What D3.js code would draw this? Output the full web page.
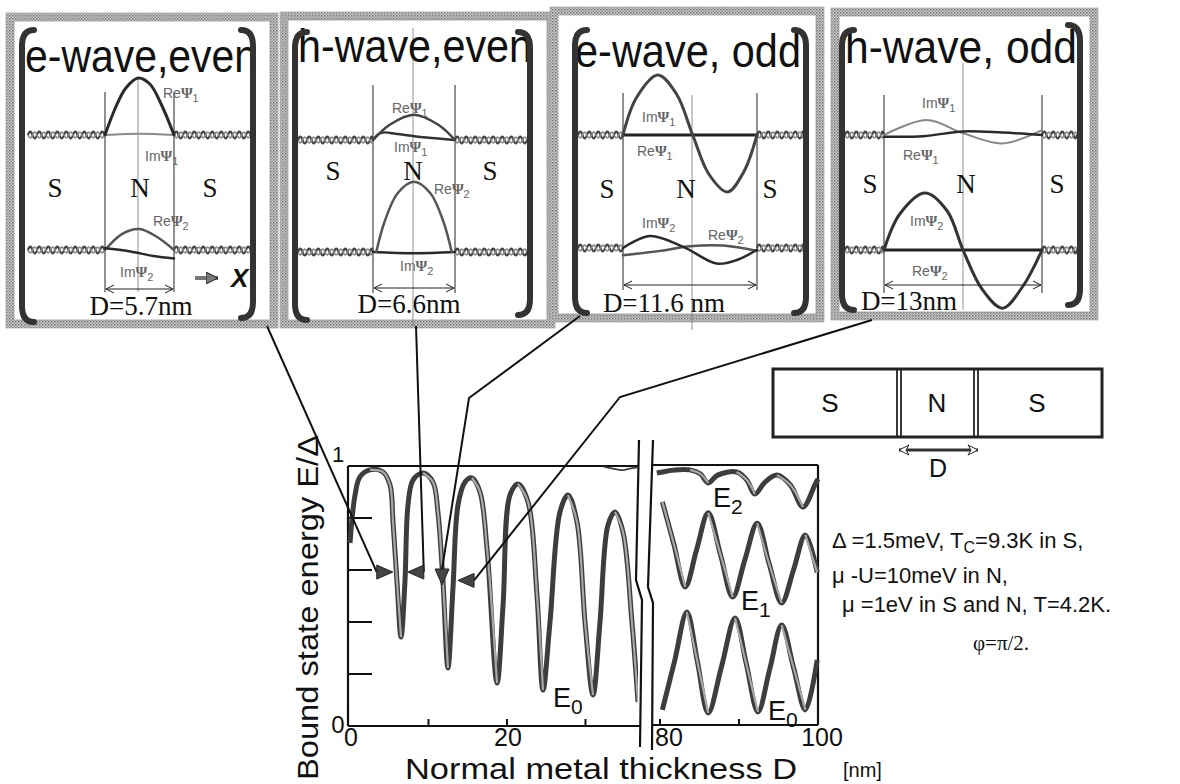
<!DOCTYPE html>
<html><head><meta charset="utf-8">
<script src="https://cdn.jsdelivr.net/npm/d3@7"></script>
<style>body{margin:0;background:#fff}svg{display:block}</style>
</head><body>
<svg id="c" width="1180" height="784"></svg>
<script>
// ---------------- DATA ----------------
// main chart: bound state energy E/Δ vs normal metal thickness D [nm]
const E0_left = [[0,0.704],[0.64,0.888],[1.27,0.958],[2.55,0.985],[4.2,0.977],[5.1,0.927],[5.48,0.785],[5.99,0.554],[6.5,0.342],[7.0,0.554],[7.39,0.85],[8.03,0.946],[9.3,0.973],[10.57,0.938],[11.2,0.823],[11.85,0.554],[12.48,0.223],[13.12,0.531],[13.76,0.85],[14.65,0.938],[15.54,0.954],[16.56,0.9],[17.45,0.685],[18.73,0.165],[19.5,0.465],[20.38,0.888],[21.4,0.931],[22.68,0.862],[23.82,0.504],[24.59,0.138],[25.48,0.4],[26.75,0.823],[27.77,0.888],[28.92,0.785],[29.94,0.4],[30.96,0.119],[31.85,0.4],[32.87,0.773],[33.76,0.823],[34.78,0.746],[35.92,0.4],[36.69,0.092]];
const E1_left = [[32.3,0.998],[33.5,0.99],[34.6,0.984],[35.6,0.99],[36.6,0.995]];
const E2_right = [[79.6,0.973],[81.9,0.985],[83.8,0.985],[85.1,0.97],[86.1,0.935],[87.3,0.965],[89.7,0.977],[91.0,0.946],[92.0,0.892],[93.3,0.938],[94.8,0.965],[96.5,0.927],[98.1,0.842],[99.6,0.927],[100,0.95]];
const E1_right = [[80.3,0.862],[81.75,0.70],[83.2,0.535],[84.65,0.68],[86.1,0.82],[87.65,0.66],[89.2,0.496],[90.75,0.64],[92.3,0.78],[93.85,0.62],[95.4,0.473],[96.9,0.60],[98.4,0.735],[99.9,0.59]];
const E0_right = [[80.3,0.062],[81.85,0.25],[83.4,0.438],[84.75,0.245],[86.1,0.05],[87.8,0.23],[89.5,0.415],[90.95,0.235],[92.4,0.054],[93.9,0.22],[95.4,0.388],[96.9,0.225],[98.4,0.062],[99.9,0.254]];
const yTicks = [0.2, 0.4, 0.6, 0.8];
const xTicksLeft = [10, 20, 30];
const xTicksRight = [80, 90];
const xLabelsLeft = [0, 20];
const xLabelsRight = [80, 100];

// inset panels
const panelTitles = ["e-wave,even", "h-wave,even", "e-wave, odd", "h-wave, odd"];
const panelDnm = [5.7, 6.6, 11.6, 13];
const panelDText = ["D=5.7nm", "D=6.6nm", "D=11.6 nm", "D=13nm"];
const arrowE = [0.592, 0.592, 0.55, 0.56];          // E/Δ where each arrow points
const arrowDir = ["right", "left", "down", "left"];
// wavefunction shapes: [position across N (0..1), relative amplitude]
const p1ReA = [[0,0],[0.15,0.45],[0.3,0.78],[0.48,0.95],[0.65,0.85],[0.82,0.5],[1,0]];
const p1ImA = [[0,0],[0.5,0.02],[1,0]];
const p1ReB = [[0,0],[0.25,0.27],[0.5,0.35],[0.75,0.22],[1,0]];
const p1ImB = [[0,0.03],[0.35,-0.02],[0.7,-0.1],[1,-0.14]];
const p2ReA = [[0,0],[0.2,0.25],[0.5,0.42],[0.8,0.25],[1,0]];
const p2ImA = [[0,0],[0.1,0.12],[0.3,0.1],[0.65,0.04],[1,0]];
const p2ReB = [[0.04,0],[0.14,0.5],[0.3,0.98],[0.5,1.17],[0.7,0.98],[0.86,0.5],[0.96,0]];
const p2ImB = [[0,0],[0.5,-0.02],[1,0]];
const p3ImA = [[0,0],[0.1,0.62],[0.26,1.0],[0.4,0.68],[0.52,0],[0.64,-0.65],[0.78,-0.95],[0.9,-0.62],[1,0]];
const p3ReA = [[0,0],[1,0]];
const p3ImB = [[0,0],[0.2,0.2],[0.45,0.02],[0.7,-0.26],[0.85,-0.2],[1,-0.03]];
const p3ReB = [[0,-0.12],[0.3,-0.04],[0.5,0.03],[0.75,0.04],[1,-0.05]];
const p4ImA = [[0,0],[0.27,0.25],[0.5,0.03],[0.75,-0.14],[1,0.08]];
const p4ReA = [[0,-0.03],[0.25,-0.02],[0.5,0.06],[0.75,0.04],[1,0]];
const p4ImB = [[0,0],[0.1,0.6],[0.26,0.95],[0.4,0.65],[0.5,0],[0.62,-0.65],[0.75,-0.97],[0.88,-0.6],[1,0]];
const p4ReB = [[0,0],[1,0]];

const paramLines = ["Δ =1.5meV, T", "μ -U=10meV in N,", "μ =1eV in S and N, T=4.2K.", "φ=π/2."];

// ---------------- LAYOUT ----------------
const svg = d3.select("#c");
svg.append("rect").attr("width",1180).attr("height",784).attr("fill","#fff");
const defs = svg.append("defs");
const pat = defs.append("pattern").attr("id","ht").attr("width",3).attr("height",3).attr("patternUnits","userSpaceOnUse");
pat.append("rect").attr("width",3).attr("height",3).attr("fill","#cfcfcf");
pat.append("rect").attr("width",1.5).attr("height",1.5).attr("fill","#707070");
pat.append("rect").attr("x",1.5).attr("y",1.5).attr("width",1.5).attr("height",1.5).attr("fill","#959595");
function mk(id, path, w, h, rx, ry, fill){
  defs.append("marker").attr("id",id).attr("viewBox",`0 0 ${w} ${h}`).attr("refX",rx).attr("refY",ry)
    .attr("markerWidth",w).attr("markerHeight",h).attr("markerUnits","userSpaceOnUse").attr("orient","auto-start-reverse")
    .append("path").attr("d",path).attr("fill",fill).attr("stroke","#222").attr("stroke-width",1);
}
mk("oa","M1,1 L9,5 L1,9",10,10,9,5,"none");
mk("ha","M1,1 L11,6 L1,11 L4,6 Z",12,12,11,6,"#fff");
mk("ga","M0,0 L12,6 L0,12 Z",12,12,12,6,"#777");

const sans = "'Liberation Sans', Arial, Helvetica, sans-serif";
const serif = "'Liberation Serif', 'Times New Roman', serif";

// ---------------- INSET PANELS ----------------
const P = [
 {box:[10,17,274,324], tx:25, ty:72, tl:232, bl:[22,30,322], br:[253,30,318], xL:105, xR:174, xc:138, y1:135, y2:250,
  vTop:92, vBot:292, cTop:78, cBot:292, ay:289, sx:[55,140,210], sy:197, dx:141, dy:315,
  wL:[28,105], wR:[174,252],
  curves:[[p1ImA,"A","#8a8a8a",2],[p1ReA,"A","#2a2a2a",3],[p1ReB,"B","#555",2.5],[p1ImB,"B","#2a2a2a",2.5]],
  labels:[["Re",163,98],["Im",145,161],["Re",153,226],["Im",120,277]]},
 {box:[284,16,551,324], tx:298, ty:62, tl:234, bl:[295,32,320], br:[530,32,315], xL:373, xR:455, xc:413, y1:140, y2:252,
  vTop:85, vBot:293, cTop:28, cBot:326, ay:288, sx:[333,413,490], sy:180, dx:409, dy:313,
  wL:[298,373], wR:[455,527],
  curves:[[p2ImA,"A","#333",2.5],[p2ReA,"A","#444",2.5],[p2ImB,"B","#2a2a2a",2.5],[p2ReB,"B","#555",2.5]],
  labels:[["Re",392,113],["Im",394,152],["Re",434,194],["Im",400,271]]},
 {box:[554,11,820,318], tx:575, ty:67, tl:226, bl:[575,30,313], br:[806,30,313], xL:623, xR:757, xc:692, y1:135, y2:248,
  vTop:93, vBot:290, cTop:95, cBot:330, ay:285, sx:[607,686,770], sy:198, dx:664, dy:312,
  wL:[578,623], wR:[757,803],
  curves:[[p3ReA,"A","#222",3],[p3ImA,"A","#444",3],[p3ReB,"B","#555",2.5],[p3ImB,"B","#2a2a2a",2.5]],
  labels:[["Im",642,122],["Re",637,156],["Im",642,228],["Re",708,240]]},
 {box:[835,12,1094,316], tx:845, ty:63, tl:232, bl:[842,30,310], br:[1080,25,305], xL:884, xR:1042, xc:963, y1:135, y2:250,
  vTop:95, vBot:293, cTop:63, cBot:310, ay:285, sx:[870,966,1057], sy:193, dx:909, dy:310,
  wL:[845,884], wR:[1042,1077],
  curves:[[p4ImA,"A","#888",2],[p4ReA,"A","#2a2a2a",2.5],[p4ReB,"B","#222",3],[p4ImB,"B","#333",3]],
  labels:[["Im",922,108],["Re",903,160],["Im",910,226],["Re",912,276]]}
];
const subIdx = [[1,1,2,2],[1,1,2,2],[1,1,2,2],[1,1,2,2]];

function wavy(x0,x1,y,amp,per,up){
  let d=`M${x0},${y}`;
  for(let x=x0;x<x1-0.5;x+=per/2){const xe=Math.min(x+per/2,x1);d+=` Q${(x+xe)/2},${y+(up?-2*amp:2*amp)} ${xe},${y}`;up=!up;}
  return d;
}
function bracketPath(x,t,b,side){
  const c = side==="L"?12:-12;
  return `M${x+c},${t} Q${x},${t} ${x},${t+16} L${x},${b-16} Q${x},${b} ${x+c},${b}`;
}

P.forEach((p,i)=>{
  const g = svg.append("g");
  const [bx0,by0,bx1,by1]=p.box;
  g.append("rect").attr("x",bx0).attr("y",by0).attr("width",bx1-bx0).attr("height",by1-by0)
    .attr("fill","#fff").attr("stroke","url(#ht)").attr("stroke-width",8);
  g.append("rect").attr("x",bx0-4).attr("y",by0-4).attr("width",bx1-bx0+8).attr("height",by1-by0+8)
    .attr("fill","none").attr("stroke","#aaa").attr("stroke-width",0.8);
  g.append("rect").attr("x",bx0+4).attr("y",by0+4).attr("width",bx1-bx0-8).attr("height",by1-by0-8)
    .attr("fill","none").attr("stroke","#999").attr("stroke-width",0.8);

  // vertical guides
  g.append("line").attr("x1",p.xc).attr("x2",p.xc).attr("y1",p.cTop).attr("y2",p.cBot).attr("stroke","#777").attr("stroke-width",0.8);
  [p.xL,p.xR].forEach(x=>g.append("line").attr("x1",x).attr("x2",x).attr("y1",p.vTop).attr("y2",p.vBot).attr("stroke","#222").attr("stroke-width",1));

  // title
  g.append("text").attr("x",p.tx).attr("y",p.ty).text(panelTitles[i])
    .attr("font-family",sans).attr("font-size",46).attr("fill","#111")
    .attr("textLength",p.tl).attr("lengthAdjust","spacingAndGlyphs");

  // S/N/S
  ["S","N","S"].forEach((s,k)=>g.append("text").attr("x",p.sx[k]).attr("y",p.sy).attr("text-anchor","middle")
    .attr("font-family",serif).attr("font-size",27).attr("fill","#111").text(s));

  // wavy lines in S regions
  [p.y1,p.y2].forEach(y=>{
    [p.wL,p.wR].forEach(w=>{
      g.append("path").attr("d",wavy(w[0],w[1],y,3.4,9,true)).attr("fill","none").attr("stroke","#444").attr("stroke-width",2.2);
      g.append("path").attr("d",wavy(w[0],w[1],y,2.8,9,false)).attr("fill","none").attr("stroke","#8a8a8a").attr("stroke-width",1.8);
    });
  });

  // wavefunctions
  const xs = d3.scaleLinear().domain([0,1]).range([p.xL,p.xR]);
  const as = d3.scaleLinear().domain([-1,1]).range([60,-60]);
  p.curves.forEach(([data,base,col,w])=>{
    const y0 = base==="A"?p.y1:p.y2;
    const line = d3.line().x(d=>xs(d[0])).y(d=>y0+as(d[1])).curve(d3.curveCatmullRom.alpha(0.5));
    g.append("path").attr("d",line(data)).attr("fill","none").attr("stroke",col).attr("stroke-width",w).attr("stroke-linecap","round");
  });

  // Ψ labels
  p.labels.forEach(([pre,x,y],k)=>{
    const t = g.append("text").attr("x",x).attr("y",y).attr("font-family",sans).attr("font-size",14).attr("fill","#666");
    t.append("tspan").text(pre);
    t.append("tspan").text("Ψ").attr("font-family",serif).attr("font-weight","bold").attr("font-size",15);
    t.append("tspan").text(subIdx[i][k]).attr("font-size",11).attr("dy",4);
  });

  // D double arrow + label
  g.append("line").attr("x1",p.xL+1).attr("x2",p.xR-1).attr("y1",p.ay).attr("y2",p.ay)
    .attr("stroke","#222").attr("stroke-width",1).attr("marker-start","url(#oa)").attr("marker-end","url(#oa)");
  g.append("text").attr("x",p.dx).attr("y",p.dy).attr("text-anchor","middle").attr("font-family",serif)
    .attr("font-size",27).attr("fill","#111").text(panelDText[i]);

  // brackets (drawn over title)
  g.append("path").attr("d",bracketPath(p.bl[0],p.bl[1],p.bl[2],"L")).attr("fill","none").attr("stroke","#333").attr("stroke-width",6).attr("stroke-linecap","round");
  g.append("path").attr("d",bracketPath(p.br[0],p.br[1],p.br[2],"R")).attr("fill","none").attr("stroke","#333").attr("stroke-width",6).attr("stroke-linecap","round");
});
// "→ x" in first panel
svg.append("line").attr("x1",195).attr("x2",218).attr("y1",278).attr("y2",278).attr("stroke","#777").attr("stroke-width",4).attr("marker-end","url(#ga)");
svg.append("text").attr("x",231).attr("y",287).attr("font-family",sans).attr("font-style","italic").attr("font-weight","bold")
  .attr("font-size",26).attr("fill","#111").text("X");

// ---------------- MAIN CHART ----------------
const xL = d3.scaleLinear().domain([0,36.5]).range([350,636.5]);
const xR = d3.scaleLinear().domain([80,100]).range([660,818]);
const y = d3.scaleLinear().domain([0,1]).range([726,466]);

defs.append("clipPath").attr("id","clipL").append("rect").attr("x",346).attr("y",455).attr("width",292).attr("height",275);
defs.append("clipPath").attr("id","clipR").append("rect").attr("x",653).attr("y",455).attr("width",167).attr("height",275);

// frames
const fr = svg.append("g").attr("stroke","#111").attr("stroke-width",2.2).attr("fill","none");
fr.append("line").attr("x1",xL(0)-2).attr("x2",xL(0)-2).attr("y1",y(1)).attr("y2",y(0));
fr.append("line").attr("x1",xL(0)-2).attr("x2",638).attr("y1",y(1)).attr("y2",y(1));
fr.append("line").attr("x1",xL(0)-2).attr("x2",641).attr("y1",y(0)).attr("y2",y(0));
fr.append("line").attr("x1",652).attr("x2",xR(100)).attr("y1",y(1)-1).attr("y2",y(1)-1);
fr.append("line").attr("x1",652).attr("x2",xR(100)).attr("y1",y(0)-1).attr("y2",y(0)-1);
fr.append("line").attr("x1",xR(100)).attr("x2",xR(100)).attr("y1",y(1)-1).attr("y2",y(0)-1);
// break marks
fr.append("path").attr("d","M639,440 L636,580 L642,600 L640,747");
fr.append("path").attr("d","M653,440 L648,587 L653,603 L652,750");

// ticks
yTicks.forEach(t=>svg.append("line").attr("x1",xL(0)-2).attr("x2",372).attr("y1",y(t)).attr("y2",y(t)).attr("stroke","#111").attr("stroke-width",2));
xTicksLeft.forEach(t=>svg.append("line").attr("x1",xL(t)).attr("x2",xL(t)).attr("y1",y(0)).attr("y2",y(0)-7).attr("stroke","#111").attr("stroke-width",2));
xTicksRight.forEach(t=>svg.append("line").attr("x1",xR(t)).attr("x2",xR(t)).attr("y1",y(0)).attr("y2",y(0)-7).attr("stroke","#111").attr("stroke-width",2));

// curves
function drawCurve(data, xs, clip, w){
  const line = d3.line().x(d=>xs(d[0])).y(d=>y(d[1])).curve(d3.curveCatmullRom.alpha(0.5));
  const g = svg.append("g").attr("clip-path",`url(#${clip})`);
  g.append("path").attr("d",line(data)).attr("fill","none").attr("stroke","#3d3d3d").attr("stroke-width",w).attr("stroke-linejoin","round");
  if(w<4) return;
  // lighter centre on falling branches
  let run=[];
  const flush=()=>{ if(run.length>1) g.append("path").attr("d",line(run)).attr("fill","none").attr("stroke","#a8a8a8").attr("stroke-width",2.2); run=[]; };
  for(let i=0;i<data.length-1;i++){
    if(data[i+1][1]<data[i][1]){ if(run.length===0) run.push(data[i]); run.push(data[i+1]); }
    else flush();
  }
  flush();
}
drawCurve(E0_left, xL, "clipL", 5);
drawCurve(E1_left, xL, "clipL", 1.8);
drawCurve(E2_right, xR, "clipR", 5);
drawCurve(E1_right, xR, "clipR", 5);
drawCurve(E0_right, xR, "clipR", 5);

// connector lines + arrowheads
const conn = svg.append("g").attr("stroke","#111").attr("stroke-width",2).attr("fill","none");
const tips = panelDnm.map((d,i)=>[xL(d), y(arrowE[i])]);
const tipOff = [[-2,0],[6,0],[1,2],[6,0]];
const starts = [[[267,326]],[[416,326]],[[580,316],[469,398]],[[872,320],[620,397]]];
tips.forEach((t,i)=>{
  const tx=t[0]+tipOff[i][0], ty=t[1]+tipOff[i][1];
  let base;
  if(arrowDir[i]==="right") base=[tx-16,ty];
  else if(arrowDir[i]==="left") base=[tx+16,ty];
  else base=[tx,ty-16];
  const pts = starts[i].concat([[base[0],base[1]]]);
  conn.append("path").attr("d",d3.line()(pts));
  let tri;
  if(arrowDir[i]==="right") tri=[[tx,ty],[tx-16,ty-7],[tx-16,ty+7]];
  else if(arrowDir[i]==="left") tri=[[tx,ty],[tx+16,ty-7],[tx+16,ty+7]];
  else tri=[[tx,ty],[tx-7,ty-16],[tx+7,ty-16]];
  svg.append("path").attr("d",d3.line()(tri)+"Z").attr("fill","#444").attr("stroke","#222").attr("stroke-width",1);
});

// axis texts
svg.append("text").attr("x",338).attr("y",462).attr("text-anchor","middle").attr("font-family",sans).attr("font-size",22).attr("fill","#111").text("1");
svg.append("text").attr("x",338).attr("y",733).attr("text-anchor","middle").attr("font-family",sans).attr("font-size",24).attr("fill","#111").text("0");
xLabelsLeft.forEach(v=>svg.append("text").attr("x",xL(v)+1).attr("y",746).attr("text-anchor","middle").attr("font-family",sans).attr("font-size",25).attr("fill","#111").text(v));
xLabelsRight.forEach(v=>svg.append("text").attr("x",xR(v)+(v===80?9:4)).attr("y",746).attr("text-anchor","middle").attr("font-family",sans).attr("font-size",25).attr("fill","#111").text(v));
svg.append("text").attr("x",843).attr("y",777).attr("font-family",sans).attr("font-size",20).attr("fill","#111").text("[nm]");
svg.append("text").attr("x",405).attr("y",779).attr("font-family",sans).attr("font-size",29).attr("fill","#111")
  .attr("textLength",392).attr("lengthAdjust","spacingAndGlyphs").text("Normal metal thickness  D");
svg.append("text").attr("transform","translate(318,780) rotate(-90)").attr("font-family",sans).attr("font-size",30).attr("fill","#111")
  .attr("textLength",345).attr("lengthAdjust","spacingAndGlyphs").text("Bound state energy  E/Δ");

// curve labels E0/E1/E2
function eLabel(x,yb,n){
  const t=svg.append("text").attr("x",x).attr("y",yb).attr("font-family",sans).attr("font-size",27).attr("fill","#111");
  t.append("tspan").text("E"); t.append("tspan").text(n).attr("font-size",21).attr("dy",7);
}
eLabel(553,707,"0"); eLabel(713,507,"2"); eLabel(741,610,"1"); eLabel(768,720,"0");

// S N S diagram
const sb = svg.append("g").attr("fill","none").attr("stroke","#222");
sb.append("rect").attr("x",773).attr("y",369).attr("width",329).attr("height",68).attr("stroke-width",3);
[897,901,974,978].forEach(x=>sb.append("line").attr("x1",x).attr("x2",x).attr("y1",369).attr("y2",437).attr("stroke-width",1.8));
[["S",830],["N",937],["S",1037]].forEach(([s,x])=>svg.append("text").attr("x",x).attr("y",412).attr("text-anchor","middle")
  .attr("font-family",sans).attr("font-size",26).attr("fill","#111").text(s));
svg.append("line").attr("x1",899).attr("x2",978).attr("y1",450).attr("y2",450).attr("stroke","#333").attr("stroke-width",3)
  .attr("marker-start","url(#ha)").attr("marker-end","url(#ha)");
svg.append("text").attr("x",938).attr("y",477).attr("text-anchor","middle").attr("font-family",sans).attr("font-size",25).attr("fill","#111").text("D");

// parameter text
const pt = svg.append("g").attr("font-family",sans).attr("fill","#111").attr("font-size",22);
const l1 = pt.append("text").attr("x",832).attr("y",548);
l1.append("tspan").text(paramLines[0]); l1.append("tspan").text("C").attr("font-size",16).attr("dy",5);
l1.append("tspan").text("=9.3K in S,").attr("dy",-5);
pt.append("text").attr("x",832).attr("y",583).text(paramLines[1]);
pt.append("text").attr("x",842).attr("y",612).text(paramLines[2]);
pt.append("text").attr("x",1001).attr("y",650).attr("text-anchor","middle").attr("font-family",serif).attr("font-size",21).text(paramLines[3]);
</script>
</body></html>
